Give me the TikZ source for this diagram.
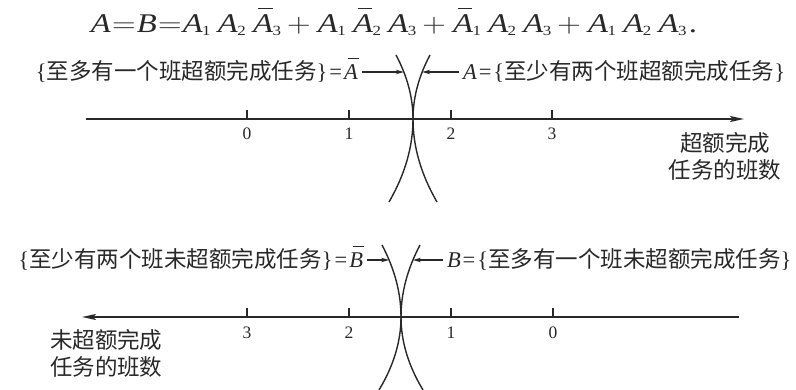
\RequirePackage{fix-cm}
\documentclass[tikz,border=0pt]{standalone}
\usepackage{fontspec}
\setmainfont{Liberation Serif}
\newfontfamily\cjk{Noto Sans CJK SC}
\usetikzlibrary{arrows.meta}
\definecolor{ink}{RGB}{40,40,40}
\newcommand\zh[1]{{\cjk #1}}
\newcommand\sbs[1]{\raisebox{-2.5pt}{\fontsize{14}{14}\selectfont #1}}
\newcommand\U[1]{\textit{A}\kern-0.5pt\sbs{#1}}
\newcommand\Ub[1]{\makebox[0pt][l]{\kern4pt\rule[24pt]{12pt}{1.1pt}}\textit{A}\kern-0.5pt\sbs{#1}}
\newcommand\lbar[1]{\makebox[0pt][l]{\kern3.5pt\rule[20pt]{11pt}{1pt}}\textit{#1}}
\newcommand\pl{\kern5pt$+$\kern6pt}
\newcommand\gq{\kern6pt}
\newcommand\eqk{\kern2pt=\kern2pt}
\begin{document}
\begin{tikzpicture}[x=1pt,y=-1pt,
  every node/.style={inner sep=0pt, outer sep=0pt, text=ink},
  lbl/.style={font=\fontsize{22.5}{27}\selectfont},
  digitlbl/.style={font=\fontsize{17.5}{17.5}\selectfont},
  axisline/.style={line width=1.6pt, draw=ink},
  tickmark/.style={line width=1.2pt, draw=ink},
  curveline/.style={line width=1.4pt, draw=ink},
  ptr/.style={line width=1.4pt, draw=ink, -{Stealth[length=8pt,width=4.5pt]}},
  axtip/.style={-{Stealth[length=14pt,width=6pt,inset=3pt]}},
]
\useasboundingbox (0,0) rectangle (796,390);

% formula
\node[anchor=base, font=\fontsize{27}{32}\selectfont] (eq) at (394,33)
  {\scalebox{1.21}[1]{\textit{A}\kern1pt$=$\kern1pt\textit{B}\kern1pt$=$\kern1pt\U1\gq\U2\gq\Ub3\pl\U1\gq\Ub2\gq\U3\pl\Ub1\gq\U2\gq\U3\pl\U1\gq\U2\gq\U3\kern2pt.}};

% ---------- top group ----------
\coordinate (tla) at (403.8,72);
\coordinate (tra) at (422.2,72);
\node[lbl, anchor=base east] (la) at (358,79.5) {\{\zh{至多有一个班超额完成任务}\}\eqk\lbar{A}};
\node[lbl, anchor=base west] (ra) at (463,79.5) {\textit{A}\eqk\{\zh{至少有两个班超额完成任务}\}};
\draw[ptr, shorten <=4pt] (la.east |- tla) -- (tla);
\draw[ptr, shorten <=4pt] (ra.west |- tra) -- (tra);

\draw[curveline] (396,55) .. controls (407.33,76.33) and (413,97.67) .. (413,119)
  .. controls (413,146.67) and (405,174.33) .. (389,202);
\draw[curveline] (430,55) .. controls (418.67,76.33) and (413,97.67) .. (413,119)
  .. controls (413,146.67) and (421,174.33) .. (437,202);

\coordinate (as) at (86,119);
\coordinate (ae) at (744,119);
\draw[axisline, axtip] (as) -- (ae);
\foreach \x/\n in {247/0,349/1,451/2,552/3}{
  \coordinate (tk\n) at (\x,119);
  \draw[tickmark] (tk\n) -- ++(0,-9);
  \node[digitlbl] (tn\n) at (\x,133.5) {\n};
}
\node[lbl, align=center] (xl1) at (725,156.5) {\zh{超额完成}\\\zh{任务的班数}};

% ---------- bottom group ----------
\coordinate (bla) at (389.1,260);
\coordinate (bra) at (412.9,260);
\node[lbl, anchor=base east] (lb) at (363,267.5) {\{\zh{至少有两个班未超额完成任务}\}\eqk\lbar{B}};
\node[lbl, anchor=base west] (rb) at (447,267.5) {\textit{B}\eqk\{\zh{至多有一个班未超额完成任务}\}};
\draw[ptr, shorten <=4pt] (lb.east |- bla) -- (bla);
\draw[ptr, shorten <=4pt] (rb.west |- bra) -- (bra);

\draw[curveline] (382,245) .. controls (394.67,269) and (401,293) .. (401,317)
  .. controls (401,341.33) and (393.67,365.67) .. (379,390);
\draw[curveline] (420,245) .. controls (407.33,269) and (401,293) .. (401,317)
  .. controls (401,341.33) and (408.33,365.67) .. (423,390);

\coordinate (bs) at (739,317);
\coordinate (be) at (82,317);
\draw[axisline, axtip] (bs) -- (be);
\foreach \x/\n in {247/3,349/2,451/1,553/0}{
  \coordinate (bk\n) at (\x,317);
  \draw[tickmark] (bk\n) -- ++(0,-9);
  \node[digitlbl] (bn\n) at (\x,332.5) {\n};
}
\node[lbl, align=left, anchor=west] (xl2) at (50,353.5) {\zh{未超额完成}\\\zh{任务的班数}};
\end{tikzpicture}
\end{document}
